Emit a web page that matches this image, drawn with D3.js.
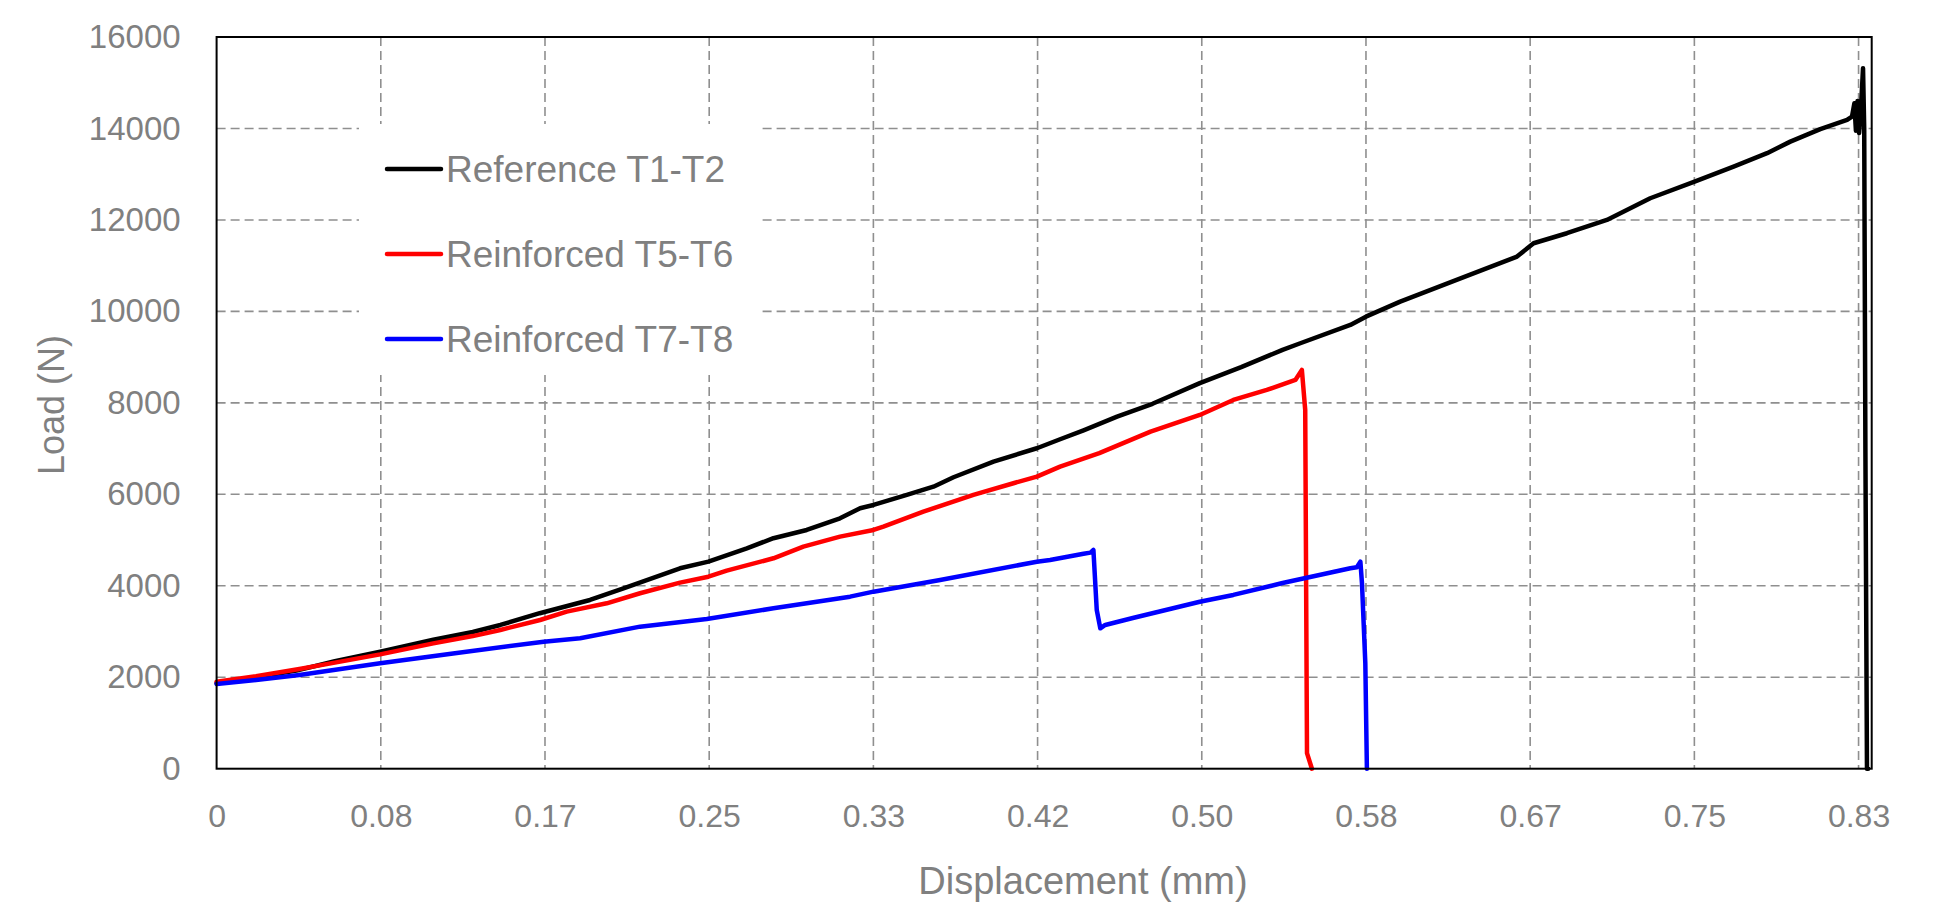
<!DOCTYPE html>
<html>
<head>
<meta charset="utf-8">
<script src="https://cdn.jsdelivr.net/npm/d3@7"></script>
<style>
  html, body { margin: 0; padding: 0; background: #fff; }
  svg { display: block; }
  text { font-family: "Liberation Sans", Arial, sans-serif; fill: #808080; }
</style>
</head>
<body>
<svg id="chart" width="1941" height="905"></svg>
<script>
// ---------- data ----------
const seriesNames = ["Reference T1-T2", "Reinforced T5-T6", "Reinforced T7-T8"];
const seriesColors = ["#000000", "#ff0000", "#0000ff"];

const referenceT1T2 = [
  [0,1870],[0.02,2000],[0.042,2160],[0.06,2350],[0.083,2560],[0.11,2820],[0.13,2990],
  [0.144,3143],[0.164,3400],[0.1895,3690],[0.2065,3945],[0.2352,4383],[0.2496,4527],
  [0.2691,4820],[0.2826,5040],[0.2995,5220],[0.3164,5476],[0.3266,5695],[0.3334,5767],
  [0.3503,5986],[0.3638,6167],[0.374,6373],[0.3943,6714],[0.4163,7007],[0.4281,7204],
  [0.44,7400],[0.457,7698],[0.475,7980],[0.499,8430],[0.52,8780],[0.541,9160],[0.55,9303],
  [0.5754,9704],[0.5833,9885],[0.6007,10213],[0.6346,10775],[0.66,11198],[0.6684,11490],
  [0.6853,11709],[0.7056,12000],[0.7276,12474],[0.7501,12838],[0.7699,13166],[0.7869,13459],
  [0.7987,13712],[0.8139,13984],[0.8275,14187],[0.83,14260],[0.8312,14550],[0.832,13950],
  [0.8328,14600],[0.8336,13900],[0.8345,14400],[0.8356,15318],[0.8362,14000],[0.8368,7000],
  [0.8376,0],[0.8382,0]
];

const reinforcedT5T6 = [
  [0,1900],[0.02,2020],[0.042,2180],[0.06,2320],[0.083,2500],[0.11,2740],[0.13,2900],
  [0.144,3034],[0.1642,3252],[0.1777,3434],[0.198,3617],[0.2149,3836],[0.2352,4068],
  [0.2496,4199],[0.2589,4330],[0.2826,4601],[0.2978,4855],[0.3164,5074],[0.3334,5220],
  [0.3384,5293],[0.3587,5621],[0.3841,5986],[0.4044,6242],[0.4163,6386],[0.4281,6605],
  [0.448,6900],[0.474,7370],[0.499,7735],[0.516,8063],[0.533,8283],[0.545,8464],
  [0.5475,8500],[0.5508,8720],[0.5525,7845],[0.5534,340],[0.5559,0]
];

const reinforcedT7T8 = [
  [0,1850],[0.02,1940],[0.042,2050],[0.083,2305],[0.12,2520],[0.166,2778],[0.1845,2852],
  [0.2149,3106],[0.2488,3274],[0.2826,3508],[0.3215,3762],[0.3334,3871],[0.3672,4127],
  [0.4163,4527],[0.423,4565],[0.44,4700],[0.4435,4725],[0.445,4783],[0.4467,3470],
  [0.4485,3070],[0.451,3143],[0.465,3296],[0.499,3652],[0.516,3800],[0.541,4060],
  [0.5754,4383],[0.5787,4404],[0.5805,4527],[0.5813,4055],[0.583,2310],[0.5838,0]
];

const allSeries = [referenceT1T2, reinforcedT5T6, reinforcedT7T8];

const yTicks = [0, 2000, 4000, 6000, 8000, 10000, 12000, 14000, 16000];
const xTicks = [0, 1/12, 2/12, 3/12, 4/12, 5/12, 6/12, 7/12, 8/12, 9/12, 10/12];
const xTickLabels = ["0", "0.08", "0.17", "0.25", "0.33", "0.42", "0.50", "0.58", "0.67", "0.75", "0.83"];
const xTitle = "Displacement (mm)";
const yTitle = "Load (N)";

// ---------- layout ----------
const svg = d3.select("#chart");
const plotLeft = 216.6, plotRight = 1871.7, plotTop = 37, plotBottom = 768.7;

const x = d3.scaleLinear().domain([0, 0.84]).range([plotLeft, plotRight]);
const y = d3.scaleLinear().domain([0, 16000]).range([plotBottom, plotTop]);

// gridlines
const grid = svg.append("g");
grid.selectAll("line.h").data(yTicks.slice(1, -1)).enter().append("line")
  .attr("x1", plotLeft).attr("x2", plotRight)
  .attr("y1", d => y(d)).attr("y2", d => y(d))
  .attr("stroke", "#8f8f8f").attr("stroke-width", 1.6).attr("stroke-dasharray", "9,5");
grid.selectAll("line.v").data(xTicks.slice(1)).enter().append("line")
  .attr("y1", plotTop).attr("y2", plotBottom)
  .attr("x1", d => x(d)).attr("x2", d => x(d))
  .attr("stroke", "#8f8f8f").attr("stroke-width", 1.6).attr("stroke-dasharray", "9,5");

// axes (labels only, via d3 axis)
const yAxis = svg.append("g").attr("transform", `translate(${plotLeft},0)`)
  .call(d3.axisLeft(y).tickValues(yTicks).tickSize(0).tickPadding(36).tickFormat(d3.format("d")));
yAxis.select(".domain").remove();
yAxis.selectAll("text").attr("font-size", 33).attr("fill", "#808080")
  .attr("font-family", "Liberation Sans, Arial, sans-serif");

const xAxis = svg.append("g").attr("transform", `translate(0,${plotBottom})`)
  .call(d3.axisBottom(x).tickValues(xTicks).tickSize(0).tickPadding(36)
    .tickFormat((d, i) => xTickLabels[i]));
xAxis.select(".domain").remove();
xAxis.selectAll("text").attr("font-size", 32).attr("fill", "#808080")
  .attr("font-family", "Liberation Sans, Arial, sans-serif");

// legend box (white, hides grid)
const legend = svg.append("g");
legend.append("rect").attr("x", 359).attr("y", 124).attr("width", 402).attr("height", 251)
  .attr("fill", "#fff");
const legendRows = [169, 254, 339];
seriesNames.forEach((name, i) => {
  legend.append("line").attr("x1", 387).attr("x2", 441)
    .attr("y1", legendRows[i]).attr("y2", legendRows[i])
    .attr("stroke", seriesColors[i]).attr("stroke-width", 4.5).attr("stroke-linecap", "round");
  legend.append("text").attr("x", 446).attr("y", legendRows[i] + 13)
    .attr("font-size", 37).text(name);
});

// data lines
const line = d3.line().x(d => x(d[0])).y(d => y(d[1]));
allSeries.forEach((s, i) => {
  svg.append("path").datum(s).attr("d", line)
    .attr("fill", "none").attr("stroke", seriesColors[i])
    .attr("stroke-width", 4.5).attr("stroke-linejoin", "round").attr("stroke-linecap", "round");
});

// plot border
svg.append("rect").attr("x", plotLeft).attr("y", plotTop)
  .attr("width", plotRight - plotLeft).attr("height", plotBottom - plotTop)
  .attr("fill", "none").attr("stroke", "#000").attr("stroke-width", 2);

// axis titles
svg.append("text").attr("x", 1083).attr("y", 894).attr("text-anchor", "middle")
  .attr("font-size", 38).text(xTitle);
svg.append("text").attr("transform", "translate(51,405) rotate(-90)")
  .attr("text-anchor", "middle").attr("dominant-baseline", "central")
  .attr("font-size", 36).text(yTitle);
</script>
</body>
</html>
